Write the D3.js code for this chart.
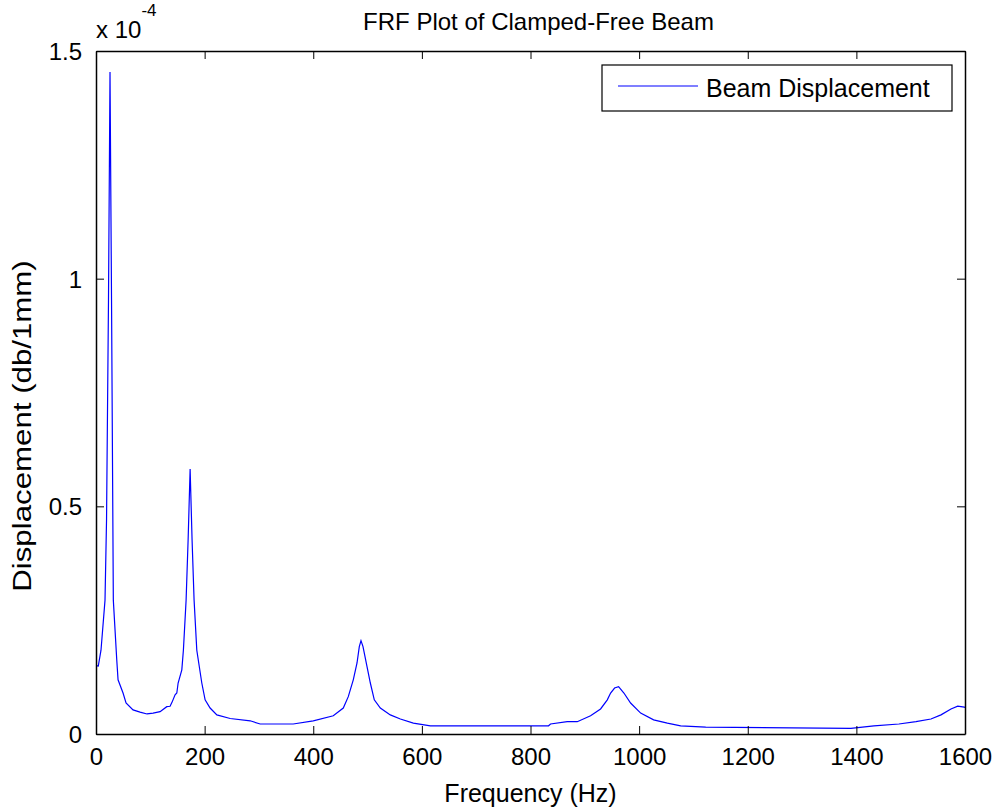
<!DOCTYPE html>
<html>
<head>
<meta charset="utf-8">
<script src="https://cdn.jsdelivr.net/npm/d3@7"></script>
<style>
  body { margin: 0; background: #fff; }
  svg text { font-family: "Liberation Sans", Arial, sans-serif; fill: #000; }
</style>
</head>
<body>
<div id="chart"></div>
<script>
// FRF of clamped-free beam, displacement in units of 1e-4
var freq = [0, 4.2, 9.2, 16.6, 19.4, 23.0, 25.8, 28.6, 31.9, 38.2, 40.6, 49.8, 55.3, 68.2, 81.1, 94.0,
    105.1, 118.0, 130.3, 136.4, 140.1, 145.6, 148.8, 151.2, 158.0, 160.9, 165.9, 169.6, 173.3, 176.9,
    180.6, 185.6, 194.8, 200.9, 210.1, 222.5, 247.0, 283.9, 302.3, 363.1, 400, 436.9, 455.3, 464.5,
    473.7, 480.6, 484.8, 487.9, 491.6, 499.0, 505.1, 512.4, 523.5, 541.9, 560.4, 584.3, 615.7, 833.2,
    836.9, 867.6, 886.1, 910.6, 929.0, 941.4, 947.5, 954.8, 962.2, 972.0, 984.3, 1002.8, 1026.7,
    1052.0, 1076.5, 1122.6, 1389.9, 1432.3, 1478.3, 1509.7, 1537.3, 1555.8, 1574.2, 1586.6, 1598.7, 1600];
var disp = [0.15, 0.149, 0.184, 0.294, 0.47, 0.953, 1.454, 0.953, 0.294, 0.163, 0.119, 0.090, 0.068, 0.053, 0.048, 0.044,
    0.046, 0.049, 0.060, 0.061, 0.070, 0.086, 0.090, 0.112, 0.141, 0.184, 0.294, 0.426, 0.582, 0.426,
    0.294, 0.184, 0.112, 0.075, 0.057, 0.042, 0.034, 0.029, 0.022, 0.022, 0.029, 0.040, 0.057, 0.082,
    0.119, 0.156, 0.192, 0.205, 0.192, 0.148, 0.112, 0.075, 0.057, 0.042, 0.033, 0.024, 0.018, 0.018,
    0.022, 0.027, 0.027, 0.040, 0.055, 0.075, 0.090, 0.101, 0.104, 0.090, 0.068, 0.046, 0.031,
    0.024, 0.018, 0.015, 0.0125, 0.018, 0.022, 0.027, 0.033, 0.042, 0.055, 0.061, 0.059, 0.058];
var xTicks = [0, 200, 400, 600, 800, 1000, 1200, 1400, 1600];
var yTicks = [0, 0.5, 1, 1.5];
var seriesName = "Beam Displacement";

var width = 997, height = 810;
var margin = {left: 96, right: 32, top: 51, bottom: 76};

var svg = d3.select("#chart").append("svg")
    .attr("width", width)
    .attr("height", height);

var x = d3.scaleLinear().domain([0, 1600]).range([margin.left, width - margin.right]);
var y = d3.scaleLinear().domain([0, 1.5]).range([height - margin.bottom, margin.top]);

var tickLen = 8;

// data line
var line = d3.line()
    .x(function (d, i) { return x(freq[i]); })
    .y(function (d) { return y(d); });

svg.append("path")
    .datum(disp)
    .attr("d", line)
    .attr("fill", "none")
    .attr("stroke", "#0000ff")
    .attr("stroke-width", 1.2);

// axes, ticks drawn inward like matlab
var xb = svg.append("g").attr("transform", "translate(0," + y(0) + ")")
    .call(d3.axisBottom(x).tickValues(xTicks).tickSizeInner(-tickLen).tickSizeOuter(0).tickPadding(14).tickFormat(d3.format("d")));
var xt = svg.append("g").attr("transform", "translate(0," + y(1.5) + ")")
    .call(d3.axisTop(x).tickValues(xTicks).tickSizeInner(-tickLen).tickSizeOuter(0).tickFormat(""));
var yl = svg.append("g").attr("transform", "translate(" + x(0) + ",0)")
    .call(d3.axisLeft(y).tickValues(yTicks).tickSizeInner(-tickLen).tickSizeOuter(0).tickPadding(14).tickFormat(d3.format("")));
var yr = svg.append("g").attr("transform", "translate(" + x(1600) + ",0)")
    .call(d3.axisRight(y).tickValues(yTicks).tickSizeInner(-tickLen).tickSizeOuter(0).tickFormat(""));

[xb, xt, yl, yr].forEach(function (g) {
    g.select(".domain").attr("stroke", "#000").attr("stroke-width", 1.5);
    g.selectAll(".tick line").attr("stroke", "#000").attr("stroke-width", 1);
    g.selectAll(".tick text").style("font-size", "24px").attr("fill", "#000");
});
xb.selectAll(".tick text").attr("dy", "0.71em");
yl.selectAll(".tick text").attr("dy", "0.35em");

// exponent marker
var ex = svg.append("text")
    .attr("x", 96)
    .attr("y", 38)
    .style("font-size", "24px");
ex.append("tspan").text("x 10");
ex.append("tspan").attr("dy", -22).style("font-size", "17px").text("-4");

// title and labels
svg.append("text")
    .attr("x", (x(0) + x(1600)) / 2 + 8)
    .attr("y", 30)
    .attr("text-anchor", "middle")
    .style("font-size", "24px")
    .text("FRF Plot of Clamped-Free Beam");

svg.append("text")
    .attr("x", (x(0) + x(1600)) / 2)
    .attr("y", 802)
    .attr("text-anchor", "middle")
    .style("font-size", "25px")
    .text("Frequency (Hz)");

// y label looks stretched along its length in the reference
svg.append("text")
    .attr("transform", "translate(31,426) rotate(-90) scale(1.25,1)")
    .attr("text-anchor", "middle")
    .style("font-size", "25px")
    .text("Displacement (db/1mm)");

// legend
var lg = svg.append("g").attr("transform", "translate(602,65)");
lg.append("rect")
    .attr("width", 350).attr("height", 46)
    .attr("fill", "#fff").attr("stroke", "#000").attr("stroke-width", 1.2);
lg.append("line")
    .attr("x1", 16).attr("x2", 96).attr("y1", 21).attr("y2", 21)
    .attr("stroke", "#0000ff").attr("stroke-width", 1.2);
lg.append("text")
    .attr("x", 104).attr("y", 32)
    .style("font-size", "25px")
    .text(seriesName);
</script>
</body>
</html>
